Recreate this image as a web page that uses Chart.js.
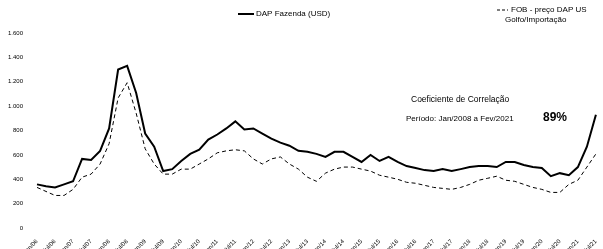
<!DOCTYPE html>
<html>
<head>
<meta charset="utf-8">
<script src="https://cdn.jsdelivr.net/npm/chart.js@4"></script>
<style>
  body { margin: 0; background: #fff; }
  #wrap { width: 603px; height: 249px; }
</style>
</head>
<body>
<div id="wrap"><canvas id="dapChart" width="603" height="249"></canvas></div>
<script>
// trimestral, jan/06 .. jul/21
const meses = ["jan", "abr", "jul", "out"];
const labels = [];
for (let a = 6; a <= 21; a++) {
  meses.forEach(m => labels.push(m + "/" + String(a).padStart(2, "0")));
}
labels.length = 63;

const dapFazenda = [358, 342, 333, 358, 383, 567, 558, 633, 817, 1300, 1330, 1108, 775, 667, 467, 483,
  550, 608, 642, 725, 767, 817, 875, 808, 817, 775, 733, 700, 675, 633, 625, 608,
  583, 625, 625, 583, 542, 600, 550, 583, 542, 508, 492, 475, 467, 483, 467, 483,
  500, 508, 508, 500, 542, 542, 517, 500, 492, 425, 450, 433, 500, 667, 930];

const dapFob = [333, 300, 267, 267, 317, 417, 442, 525, 692, 1067, 1192, 942, 650, 525, 442, 442,
  483, 483, 525, 567, 617, 633, 642, 633, 567, 525, 567, 583, 525, 483, 417, 383,
  450, 483, 500, 500, 483, 467, 433, 417, 400, 375, 367, 350, 333, 325, 317, 333,
  358, 392, 408, 425, 392, 383, 358, 333, 317, 292, 292, 358, 392, 500, 608];

const yTicks = [0, 200, 400, 600, 800, 1000, 1200, 1400, 1600];

const textos = {
  afterDraw(chart) {
    const ctx = chart.ctx;
    ctx.save();
    ctx.fillStyle = "#000";
    ctx.strokeStyle = "#000";
    // legenda serie 1
    ctx.lineWidth = 2;
    ctx.beginPath();
    ctx.moveTo(238, 14);
    ctx.lineTo(254, 14);
    ctx.stroke();
    ctx.font = "8px 'Liberation Sans', Arial, sans-serif";
    ctx.textBaseline = "middle";
    ctx.fillText("DAP Fazenda (USD)", 256, 14);
    // legenda serie 2
    ctx.lineWidth = 1;
    ctx.setLineDash([3, 2]);
    ctx.beginPath();
    ctx.moveTo(497, 10);
    ctx.lineTo(508, 10);
    ctx.stroke();
    ctx.setLineDash([]);
    ctx.fillText("FOB - preço DAP US", 511, 10);
    ctx.fillText("Golfo/Importação", 505, 20);
    // correlacao
    ctx.font = "8.5px 'Liberation Sans', Arial, sans-serif";
    ctx.fillText("Coeficiente de Correlação", 411, 100);
    ctx.font = "8px 'Liberation Sans', Arial, sans-serif";
    ctx.fillText("Período: Jan/2008 a Fev/2021", 406, 119);
    ctx.font = "bold 12px 'Liberation Sans', Arial, sans-serif";
    ctx.fillText("89%", 543, 118);
    ctx.restore();
  }
};

new Chart(document.getElementById("dapChart").getContext("2d"), {
  type: "line",
  data: {
    labels: labels,
    datasets: [
      {
        label: "DAP Fazenda (USD)",
        data: dapFazenda,
        borderColor: "#000",
        borderWidth: 2,
        pointRadius: 0,
        tension: 0
      },
      {
        label: "FOB - preço DAP",
        data: dapFob,
        borderColor: "#000",
        borderWidth: 1,
        borderDash: [4, 3],
        pointRadius: 0,
        tension: 0
      }
    ]
  },
  options: {
    responsive: false,
    animation: false,
    layout: { padding: { top: 33, right: 2, left: 0, bottom: 0 } },
    plugins: { legend: { display: false }, tooltip: { enabled: false } },
    scales: {
      x: {
        offset: false,
        grid: { display: false },
        border: { display: false },
        ticks: {
          autoSkip: false,
          minRotation: 45,
          maxRotation: 45,
          padding: 2,
          color: "#000",
          font: { size: 6, family: "'Liberation Sans', Arial, sans-serif" },
          callback: function (v, i) {
            return i % 2 === 0 ? labels[i] : "";
          }
        },
        afterFit: s => { s.height = 21; }
      },
      y: {
        min: 0,
        max: 1600,
        afterBuildTicks: s => { s.ticks = yTicks.map(v => ({ value: v })); },
        grid: { display: false },
        border: { display: false },
        ticks: {
          color: "#000",
          padding: 6,
          font: { size: 6, family: "'Liberation Sans', Arial, sans-serif" },
          callback: v => v.toLocaleString("pt-BR")
        },
        afterFit: s => { s.width = 37; }
      }
    }
  },
  plugins: [textos]
});
</script>
</body>
</html>
